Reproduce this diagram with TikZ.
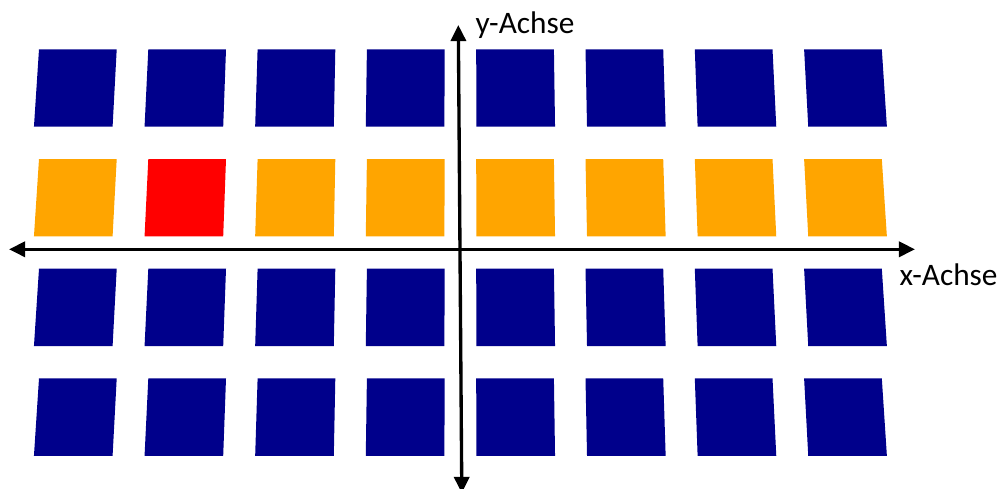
\documentclass[tikz,border=0pt]{standalone}
\usepackage{fontspec}
\setmainfont{Carlito}
\usetikzlibrary{arrows.meta}
\definecolor{navyc}{RGB}{0,0,139}
\definecolor{orangec}{RGB}{255,165,0}
\definecolor{redc}{RGB}{255,0,0}
\tikzset{
  axisline/.style={line width=0.95pt,{Triangle[length=4.6pt,width=4.3pt]}-{Triangle[length=4.6pt,width=4.3pt]}},
  axislabel/.style={inner sep=0pt,font=\fontsize{8.9pt}{10pt}\selectfont}
}
\begin{document}
\begin{tikzpicture}[x=0.01cm,y=-0.01cm]
\useasboundingbox (0,0) rectangle (1001,488);
\foreach \r in {0,...,3}{
  \foreach \i in {0,...,7}{
    \pgfmathsetmacro\xl{39+109.3*\i}
    \pgfmathsetmacro\xr{\xl+77.7}
    \pgfmathsetmacro\yt{49.3+109.7*\r}
    \pgfmathsetmacro\yb{\yt+77.4}
    \pgfmathsetmacro\bl{460+(\xl-460)*1.012}
    \pgfmathsetmacro\br{460+(\xr-460)*1.012}
    \ifnum\r=1 \ifnum\i=1 \def\cc{redc}\else\def\cc{orangec}\fi\else\def\cc{navyc}\fi
    \fill[\cc] (\xl,\yt) -- (\xr,\yt) -- (\br,\yb) -- (\bl,\yb) -- cycle;
  }
}
\coordinate (xleft) at (9,249.3);
\coordinate (xright) at (915,249.3);
\coordinate (ytop) at (458.3,25);
\coordinate (ybottom) at (461.8,493);
\draw[axisline] (xleft) -- (xright);
\draw[axisline] (ybottom) -- (ytop);
\node[axislabel,anchor=base west] (ylab) at (475,33.3) {y-Achse};
\node[axislabel,anchor=base west] (xlab) at (899,285) {x-Achse};
\end{tikzpicture}
\end{document}
